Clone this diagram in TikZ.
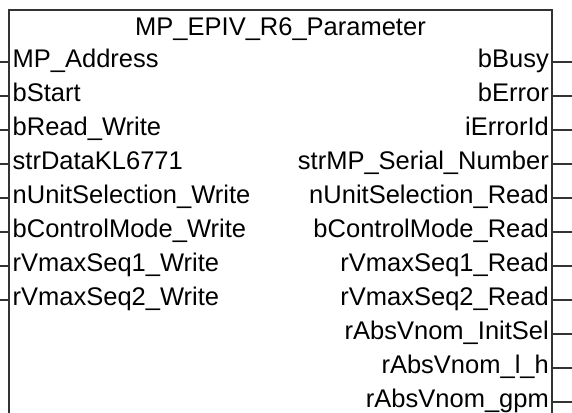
\documentclass[tikz,border=0pt]{standalone}
\usepackage{fontspec}
\setmainfont{Liberation Sans}
\definecolor{edge}{HTML}{333333}
\tikzset{
  fbline/.style={draw=edge, line width=2pt},
  pinline/.style={draw=edge, line width=2pt},
  inlabel/.style={anchor=base west, inner sep=0pt, font=\fontsize{25.5}{30}\selectfont},
  outlabel/.style={anchor=base east, inner sep=0pt, font=\fontsize{25.5}{30}\selectfont},
  titlelabel/.style={anchor=base, inner sep=0pt, font=\fontsize{25.5}{30}\selectfont}
}
\begin{document}
\begin{tikzpicture}[x=1pt,y=-1pt]
\useasboundingbox (0,0) rectangle (572,412);
\clip (0,0) rectangle (572,412);
% frame of the function block (runs past the lower edge)
\coordinate (fbBL) at (9,430);
\coordinate (fbTL) at (9,10);
\coordinate (fbTR) at (552,10);
\coordinate (fbBR) at (552,430);
\draw[fbline] (fbBL) -- (fbTL) -- (fbTR) -- (fbBR);
\node[titlelabel] (title) at (280.5,35.5) {MP\_EPIV\_R6\_Parameter};
% inputs
\foreach \txt [count=\i] in {MP\_Address, bStart, bRead\_Write, strDataKL6771,
  nUnitSelection\_Write, bControlMode\_Write, rVmaxSeq1\_Write, rVmaxSeq2\_Write} {
  \pgfmathsetmacro{\yy}{62+34*(\i-1)}
  \coordinate (inpin\i) at (0,\yy);
  \coordinate (inport\i) at (9,\yy);
  \draw[pinline] (inpin\i) -- (inport\i);
  \node[inlabel] (in\i) at (12.5,\yy+5) {\txt};
}
% outputs
\foreach \txt [count=\i] in {bBusy, bError, iErrorId, strMP\_Serial\_Number,
  nUnitSelection\_Read, bControlMode\_Read, rVmaxSeq1\_Read, rVmaxSeq2\_Read,
  rAbsVnom\_InitSel, rAbsVnom\_l\_h, rAbsVnom\_gpm} {
  \pgfmathsetmacro{\yy}{62+34*(\i-1)}
  \coordinate (outport\i) at (552,\yy);
  \coordinate (outpin\i) at (572,\yy);
  \draw[pinline] (outport\i) -- (outpin\i);
  \node[outlabel] (out\i) at (549,\yy+5) {\txt};
}
\end{tikzpicture}
\end{document}
